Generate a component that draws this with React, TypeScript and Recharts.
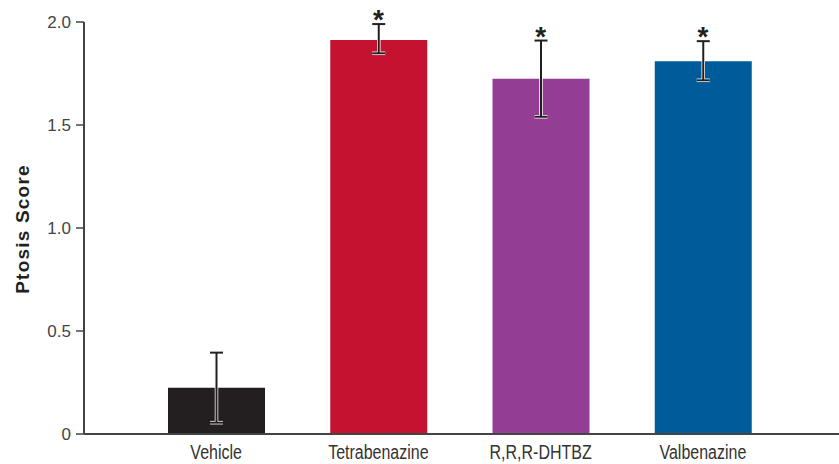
import React from 'react';
import { ComposedChart, Bar, XAxis, YAxis, ErrorBar, Cell, Scatter } from 'recharts';

const categories = ['Vehicle', 'Tetrabenazine', 'R,R,R-DHTBZ', 'Valbenazine'];
const meanScores = [0.225, 1.913, 1.725, 1.809];
const errLow = [0.17, 0.065, 0.185, 0.092];
const errHigh = [0.17, 0.077, 0.185, 0.098];
const significant = [false, true, true, true];
const barColors = ['#231f20', '#c41230', '#933e94', '#005b9a'];
const yTicks = [0, 0.5, 1.0, 1.5, 2.0];

const data = categories.map((name, i) => ({
  name,
  score: meanScores[i],
  err: [errLow[i], errHigh[i]],
  star: significant[i] ? meanScores[i] + errHigh[i] : null,
}));

const sans = '"Liberation Sans", Arial, sans-serif';

const StarShape = (props: any) => {
  const { cx, cy, payload } = props;
  if (payload.star == null) return <g />;
  return (
    <text x={cx} y={cy + 5} textAnchor="middle" fontSize={28} fontWeight="bold" fontFamily={sans} fill="#231f20">
      *
    </text>
  );
};

const XTick = (props: any) => {
  const { x, y, payload } = props;
  return (
    <g transform={`translate(${x},${y})`}>
      <text transform="scale(0.82,1)" textAnchor="middle" dy="0.71em" fontSize={19.5} fontFamily={sans} fill="#333">
        {payload.value}
      </text>
    </g>
  );
};

const YTitle = (props: any) => {
  const vb = props.viewBox || { x: 0, y: 22, width: 84, height: 412 };
  const cx = vb.x + 22;
  const cy = vb.y + vb.height / 2 + 1;
  return (
    <text
      transform={`translate(${cx},${cy}) rotate(-90)`}
      textAnchor="middle"
      dominantBaseline="central"
      fontSize={19}
      fontWeight="bold"
      letterSpacing={1.2}
      fontFamily={sans}
      fill="#231f20"
    >
      Ptosis Score
    </text>
  );
};

export default function App() {
  return (
    <div style={{ position: 'absolute', left: 0, top: 0, background: '#fff' }}>
      <ComposedChart width={839} height={464} data={data} margin={{ top: 22, right: 0, bottom: 0, left: 0 }}>
        <XAxis
          dataKey="name"
          type="category"
          height={30}
          padding={{ left: 51, right: 55 }}
          axisLine={{ stroke: '#444', strokeWidth: 2 }}
          tickLine={false}
          tickMargin={5}
          tick={<XTick />}
        />
        <YAxis
          type="number"
          domain={[0, 2]}
          ticks={yTicks}
          width={84}
          interval={0}
          tickSize={8}
          tickMargin={5}
          tickFormatter={(v: number) => (v === 0 ? '0' : v.toFixed(1))}
          axisLine={{ stroke: '#444', strokeWidth: 2 }}
          tickLine={{ stroke: '#444', strokeWidth: 1.5 }}
          tick={{ fontSize: 17, fontFamily: sans, fill: '#444' }}
          label={<YTitle />}
        />
        <Bar dataKey="score" barSize={97} isAnimationActive={false}>
          {data.map((d, i) => (
            <Cell key={d.name} fill={barColors[i]} />
          ))}
          <ErrorBar dataKey="err" width={6.5} stroke="#ffffff" strokeWidth={3.5} direction="y" />
          <ErrorBar dataKey="err" width={6.5} stroke="#231f20" strokeWidth={2} direction="y" />
        </Bar>
        <Scatter dataKey="star" shape={StarShape} isAnimationActive={false} />
      </ComposedChart>
    </div>
  );
}
